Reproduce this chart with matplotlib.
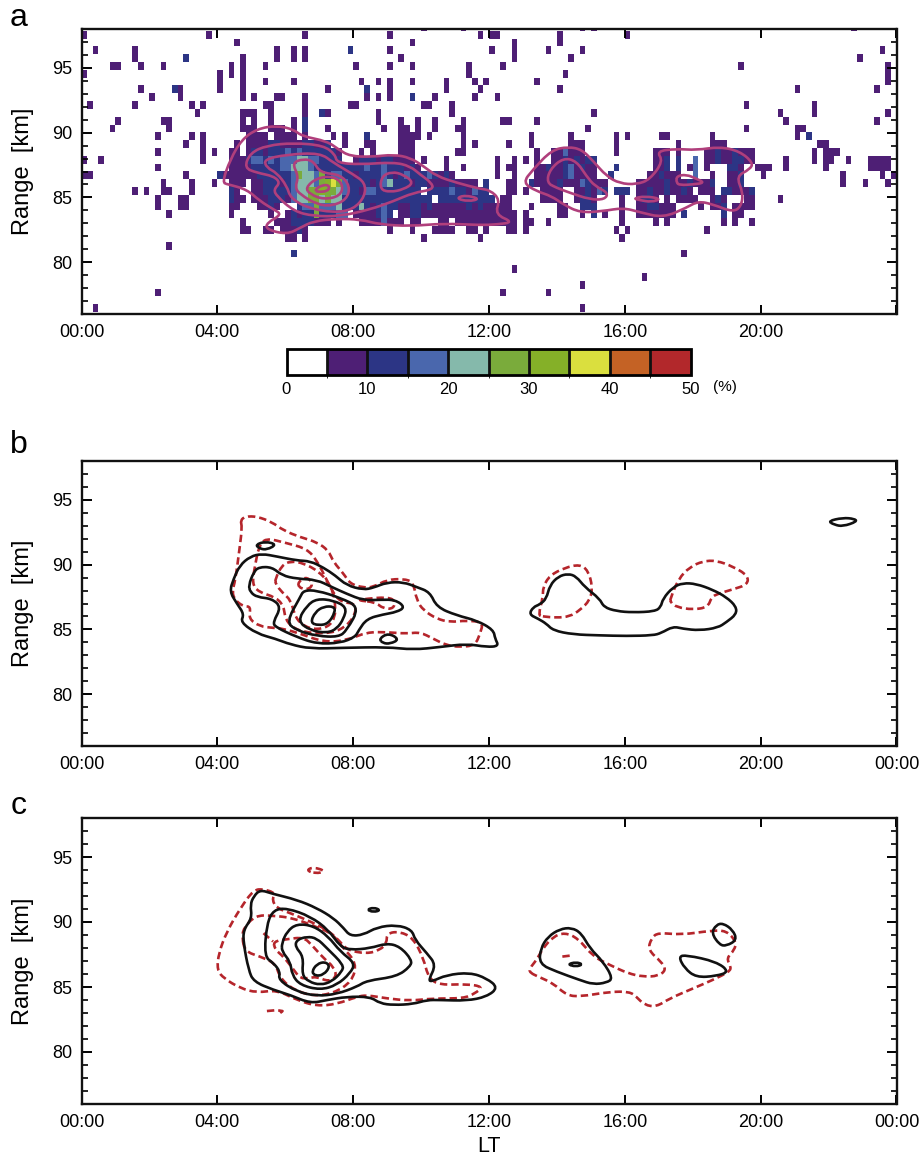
"""Three stacked range-time panels: occurrence map with contours (a), contour comparisons (b, c)."""
import matplotlib

matplotlib.use("Agg")
import matplotlib.pyplot as plt
import numpy as np
from matplotlib.colors import BoundaryNorm, ListedColormap
from matplotlib.patches import PathPatch
from matplotlib.path import Path

plt.rcParams["font.family"] = ["Liberation Sans", "DejaVu Sans"]

# colour bins of the occurrence map, 5 % wide
BIN_EDGES = [0, 5, 10, 15, 20, 25, 30, 35, 40, 45, 50]
BIN_COLORS = ["#ffffff", "#4e1f75", "#2c3585", "#4a67ad", "#85b9ab",
              "#7aab3b", "#85b028", "#dadf3e", "#c46225", "#b2282b"]
CB_TICKS = [0, 10, 20, 30, 40, 50]

# 10 min columns, 0.6 km rows. row -1 is the top row.
# row -> [(first column, bin number per column)], "." is an empty cell
occ_rows = {
    -1: [(60, "1"), (67, "1"), (88, "1"), (90, "1"), (136, "1")],
    0: [(0, "1"), (22, "1"), (39, "1"), (54, "1"), (70, "1"), (72, "11"), (84, "1"), (96, "1")],
    1: [(27, "1"), (58, "1"), (76, "1"), (84, "1")],
    2: [(2, "1"), (9, "1"), (34, "1"), (37, "1"), (39, "1"), (47, "2"), (54, "1"), (72, "1"), (76, "1"),
        (82, "1"), (88, "1"), (141, "1")],
    3: [(9, "1"), (18, "2"), (28, "1"), (34, "1"), (37, "1"), (39, "1"), (56, "1"), (76, "1"), (86, "1"), (137, "1")],
    4: [(5, "11"), (10, "1"), (14, "1"), (26, "1"), (28, "1"), (32, "1"), (48, "1"), (54, "1"), (58, "1"),
        (68, "1"), (74, "1"), (116, "1"), (142, "1")],
    5: [(0, "1"), (24, "1"), (26, "1"), (28, "1"), (68, "1"), (85, "1"), (142, "1")],
    6: [(24, "1"), (28, "1"), (32, "1"), (37, "1"), (49, "1"), (52, "1"), (54, "1"), (58, "1"), (64, "1"),
        (69, "1"), (71, "1"), (80, "1"), (142, "1")],
    7: [(10, "1"), (16, "21"), (24, "1"), (28, "1"), (43, "1"), (50, "2"), (54, "1"), (64, "1"), (70, "1"),
        (84, "1"), (126, "1"), (140, "1")],
    8: [(12, "1"), (17, "1"), (28, "1"), (30, "1"), (34, "11"), (39, "1"), (50, "1"), (52, "1"), (54, "1"),
        (58, "2"), (62, "1"), (69, "1"), (73, "1")],
    9: [(1, "1"), (9, "1"), (19, "1"), (21, "1"), (32, "11"), (39, "1"), (47, "11"), (60, "11"), (65, "1"),
        (117, "1"), (129, "1")],
    10: [(20, "1"), (28, "111"), (33, "1"), (39, "1"), (42, "21"), (52, "1"), (65, "1"), (90, "1"), (123, "1"),
         (129, "1"), (142, "1")],
    11: [(6, "1"), (14, "11"), (28, "1"), (30, "1"), (33, "1"), (37, "1"), (39, "2"), (52, "1"), (56, "1"), (59, "1"),
         (62, "1"), (67, "1"), (74, "11"), (80, "1"), (124, "1"), (140, "1")],
    12: [(5, "1"), (15, "1"), (28, "111"), (33, "111"), (37, "1"), (39, "2"), (43, "1"), (53, "1"), (56, "11"),
         (59, "1"), (62, "1"), (66, "11"), (89, "1"), (117, "1"), (126, "11")],
    13: [(13, "1"), (19, "1"), (21, "1"), (29, "1111.1111"), (39, "1"), (44, "1"), (46, "1"), (50, "2"), (56, "1111"),
         (61, "1"), (67, "1"), (79, "1"), (86, "1"), (94, "1"), (96, "1"), (102, "11"), (111, "1"), (126, "1"),
         (128, "2")],
    14: [(18, "1"), (21, "1"), (27, "1"), (29, "111122111122112"), (46, "1"), (50, "11"), (56, "111"),
         (67, "1"), (69, "1"), (75, "1"), (79, "1"), (86, "111"), (94, "1"), (105, "1"), (111, "111"),
         (130, "11")],
    15: [(13, "1"), (21, "1"), (23, "1"), (26, "11"), (29, "12212223232222221"), (49, "1"), (51, "1"), (56, "111"),
         (66, "11"), (80, "1"), (83, "113111"), (94, "1"), (101, "111"), (105, "1"), (110, "112112111"),
         (129, "1"), (131, "111")],
    16: [(0, "1"), (3, "1"), (21, "1"), (26, "11123323233344332222"), (48, "12221221111"), (60, "1"), (64, "1"),
         (73, "1"), (76, "1"), (78, "1"), (80, "1"), (83, "11212122"), (101, "112"), (105, "2"), (108, "3"),
         (110, "112112211"), (124, "1"), (129, "1"), (131, "11"), (135, "1"), (139, "1111")],
    17: [(13, "1"), (26, "1111222223344432222222223223222121"), (64, "1"), (67, "1"), (73, "1"), (75, "11"),
         (80, "11211231211"), (94, "2"), (101, "112"), (105, "2"), (107, "13"), (110, "1"), (114, "221"),
         (119, "111"), (124, "1"), (131, "1"), (139, "1111")],
    18: [(0, "11"), (18, "1"), (24, "21111112222223544352"), (44, "3322122223212322232121"), (73, "1"), (76, "1"),
         (80, "11111231111"), (93, "2"), (100, "112111"), (108, "3"), (111, "1"), (114, "112"), (120, "1"),
         (134, "1"), (141, "1"), (143, "1")],
    19: [(14, "1"), (19, "1"), (23, "1"), (26, "111"), (30, "1122212344435675322221"), (52, "2342221221"),
         (62, "11121111"), (71, "2"), (75, "11"), (79, "2"), (80, "1111211132111"), (98, "11111211121112"),
         (114, "112"), (134, "1"), (138, "1"), (142, "1")],
    20: [(9, "1"), (11, "1"), (14, "11"), (19, "1"), (26, "21"), (30, "11222223445565543"), (47, "2213322222222"),
         (61, "22"), (63, "223221322"), (75, "11"), (78, "1"), (81, "1111"), (87, "112132"),
         (94, "222"), (98, "1121121121"), (109, "111"), (113, "221112")],
    21: [(13, "1"), (17, "11"), (26, "211"), (30, "1112221344554544"), (46, "2222222222222222"), (63, "2222222222"),
         (74, "11"), (81, "1111"), (87, "1221"), (95, "1"), (98, "1221"), (103, "1"), (105, "1111"),
         (111, "121"), (117, "11"), (123, "1")],
    22: [(13, "1"), (17, "11"), (26, "11"), (31, "1121"), (38, "2335333"), (45, "422242"), (51, "1232211221211"),
         (64, "1111212111"), (74, "11"), (79, "1"), (84, "11"), (88, "222"), (95, "1"), (98, "1122111"), (109, "1"),
         (111, "112"), (115, "1111")],
    23: [(15, "1"), (26, "1"), (33, "1"), (36, "12122522233"), (48, "1111232"), (56, "11221111111111111"),
         (73, "1111"), (78, "1"), (84, "11"), (88, "1"), (90, "2"), (92, "1"), (95, "1"), (98, "1111111"),
         (106, "2"), (113, "2"), (115, "11")],
    24: [(28, "1"), (34, "111222211"), (43, "1"), (45, "1"), (49, "11113111"), (58, "11"), (63, "11"), (66, "1111111"),
         (73, "1111"), (78, "11"), (82, "1"), (95, "1"), (101, "1"), (103, "1"), (113, "1"), (115, "1"), (118, "1")],
    25: [(28, "11"), (32, "11"), (35, "11121"), (54, "1"), (58, "1"), (62, "1111"), (68, "11"), (71, "1"),
         (75, "11"), (78, "1"), (94, "1"), (96, "1"), (110, "1")],
    26: [(36, "11"), (39, "1"), (60, "1"), (70, "1"), (95, "1")],
    27: [(15, "1")],
    28: [(37, "2"), (106, "1")],
    30: [(76, "1")],
    31: [(99, "1")],
    32: [(88, "1")],
    33: [(13, "1"), (74, "1"), (82, "1")],
    35: [(2, "1"), (88, "1")],
}

# contours, (hours, km). panel a
a_contours = [
    ([4.14, 4.38, 4.72, 5.17, 5.75, 6.25, 6.49, 7.23, 7.57, 7.91, 8.55, 9.19, 9.68, 10.07, 10.46, 11.05, 11.74, 12.03,
      12.32, 12.18, 12.72, 12.23, 11.74, 10.66, 9.68, 8.79, 8.21, 7.52, 6.83, 6.44, 6.05, 5.44, 5.46, 5.90, 5.66, 5.26,
      4.87, 4.33],
     [86.13, 87.93, 89.47, 90.29, 90.55, 90.24, 89.73, 89.34, 88.70, 88.18, 88.13, 88.31, 88.06, 87.41, 86.64, 86.13,
      85.66, 85.56, 84.84, 83.68, 83.09, 82.91, 82.86, 82.99, 82.78, 82.91, 83.30, 83.35, 83.17, 82.65, 82.14, 82.53,
      83.04, 83.68, 84.07, 84.71, 85.61, 86.00]),
    ([4.79, 4.97, 5.46, 6.25, 7.13, 7.47, 7.52, 8.21, 9.19, 9.68, 9.97, 10.31, 10.36, 9.77, 9.19, 8.50, 7.62, 6.83, 6.25,
      5.75, 5.66, 5.85, 5.66, 5.17],
     [87.28, 88.44, 89.01, 89.21, 89.01, 88.31, 87.67, 87.54, 87.72, 87.41, 86.77, 86.13, 85.61, 85.36, 84.71, 84.07,
      83.55, 83.55, 83.94, 85.10, 85.61, 86.13, 86.64, 86.90]),
    ([5.36, 6.05, 7.03, 7.42, 8.01, 8.35, 8.35, 8.01, 7.42, 6.64, 6.15, 6.05, 5.75, 5.46],
     [87.93, 88.31, 88.44, 87.67, 86.77, 86.13, 85.10, 84.07, 83.82, 84.20, 84.97, 85.87, 86.90, 87.28]),
    ([6.20, 6.54, 6.83, 7.03, 7.62, 7.91, 7.81, 7.37, 6.93, 6.44, 6.29, 6.39],
     [87.67, 87.98, 87.80, 86.90, 86.77, 85.87, 84.84, 84.33, 84.46, 85.23, 85.74, 86.64]),
    ([6.59, 6.93, 7.42, 7.71, 7.62, 7.13, 6.74], [85.74, 86.51, 86.64, 86.00, 85.10, 84.84, 85.23]),
    ([6.88, 7.08, 7.30, 7.27, 6.93], [85.61, 85.95, 85.95, 85.48, 85.41]),
    ([8.79, 8.84, 9.14, 9.48, 9.79, 9.48, 9.09], [85.61, 86.64, 86.98, 86.77, 86.13, 85.61, 85.41]),
    ([11.03, 11.29, 11.74, 11.39], [84.92, 85.18, 84.89, 84.69]),
    ([12.99, 13.30, 13.84, 14.33, 14.73, 15.07, 15.46, 15.85, 16.34, 16.74, 17.13, 16.93, 17.52, 18.11, 18.79, 19.38,
      19.78, 19.68, 19.28, 19.48, 19.43, 19.19, 18.60, 18.16, 17.81, 17.13, 16.44, 15.95, 15.36, 14.68, 14.19, 13.84,
      13.40],
     [86.13, 87.16, 88.65, 88.91, 88.70, 87.80, 86.64, 86.08, 86.00, 86.38, 87.80, 88.57, 88.75, 88.65, 88.91, 88.57,
      87.67, 87.16, 86.64, 85.36, 84.33, 83.86, 84.46, 84.71, 84.20, 83.43, 83.86, 84.20, 83.94, 83.82, 84.46, 85.10,
      85.48]),
    ([13.70, 13.79, 14.19, 14.58, 14.87, 15.12, 15.51, 15.41, 14.97, 14.38, 13.99],
     [86.13, 87.16, 88.06, 87.80, 86.64, 85.87, 85.36, 84.84, 84.84, 85.36, 85.74]),
    ([17.52, 17.81, 18.11, 18.35, 18.01, 17.62, 17.52], [86.64, 86.77, 86.44, 86.13, 86.00, 85.95, 86.13]),
    ([16.25, 16.59, 17.08, 16.78, 16.44], [84.92, 85.10, 84.89, 84.64, 84.79]),
]

# panel b
b_black = [
    ([4.36, 4.48, 4.66, 4.97, 5.31, 5.75, 6.34, 6.74, 7.13, 7.47, 7.81, 8.30, 8.60, 8.99, 9.48, 9.87, 10.26, 10.46,
      11.05, 11.64, 12.13, 12.18, 12.29, 11.93, 11.34, 10.56, 9.77, 8.99, 7.72, 6.74, 6.15, 5.71, 5.17, 4.68, 4.79, 4.58],
     [87.93, 88.91, 89.94, 90.63, 90.84, 90.63, 90.32, 90.27, 89.76, 89.17, 88.40, 88.06, 88.22, 88.63, 88.65, 88.27,
      87.88, 86.72, 86.08, 85.69, 84.97, 84.28, 83.71, 83.64, 83.89, 83.64, 83.43, 83.64, 83.58, 83.51, 83.84, 84.28,
      84.67, 85.56, 86.16, 86.98]),
    ([4.92, 5.07, 5.22, 5.61, 5.90, 6.34, 6.93, 7.37, 7.81, 8.30, 8.79, 9.24, 9.53, 9.28, 8.89, 8.40, 8.16, 8.06, 7.62,
      6.93, 6.34, 5.71, 5.64, 5.88, 5.61, 5.17, 4.97],
     [88.40, 89.42, 89.81, 89.81, 89.17, 88.91, 88.83, 88.27, 87.75, 87.24, 87.29, 87.29, 86.72, 86.34, 86.16, 85.82,
      84.92, 84.41, 83.95, 83.89, 84.41, 85.18, 85.56, 86.72, 87.37, 87.49, 87.88]),
    ([6.03, 6.44, 6.54, 6.93, 7.62, 8.19, 7.81, 7.57, 6.93, 6.34],
     [85.56, 87.49, 88.01, 88.01, 87.44, 86.72, 84.92, 84.41, 84.49, 84.92]),
    ([6.36, 6.64, 6.93, 7.42, 7.81, 7.72, 7.52, 7.23, 6.74],
     [85.64, 86.85, 87.37, 87.24, 86.72, 85.82, 85.05, 84.72, 84.92]),
    ([6.74, 6.88, 7.13, 7.44, 7.47, 7.27, 6.98], [85.51, 86.34, 86.77, 86.77, 86.34, 85.44, 85.31]),
    ([5.12, 5.41, 5.75, 5.46, 5.25], [91.53, 91.79, 91.56, 91.15, 91.23]),
    ([8.76, 9.04, 9.36, 9.09, 8.87], [84.28, 84.72, 84.23, 83.89, 83.94]),
    ([13.18, 13.30, 13.50, 13.69, 13.79, 14.04, 14.33, 14.57, 14.82, 15.26, 15.38, 15.75, 16.24, 16.88, 17.06, 17.12,
      17.42, 17.71, 18.10, 18.59, 18.99, 19.28, 19.28, 18.99, 18.74, 18.20, 17.71, 17.42, 17.07, 16.83, 16.05, 15.26,
      14.48, 13.89, 13.69, 13.45],
     [86.16, 86.72, 86.93, 87.37, 88.40, 89.09, 89.30, 89.09, 88.27, 87.37, 86.72, 86.41, 86.31, 86.39, 86.72, 87.37,
      88.27, 88.58, 88.52, 88.06, 87.49, 86.77, 86.16, 85.56, 85.13, 84.92, 85.05, 85.23, 84.72, 84.54, 84.49, 84.54,
      84.61, 84.92, 85.44, 85.82]),
    ([21.98, 22.42, 22.76, 22.84, 22.42, 22.17], [93.36, 93.62, 93.54, 93.33, 92.95, 93.08]),
]
b_red = [
    ([4.68, 4.82, 5.17, 5.61, 5.95, 6.44, 6.93, 7.27, 7.42, 7.72, 7.91, 8.30, 8.60, 8.99, 9.48, 9.77, 9.87, 10.07, 10.46,
      10.85, 11.34, 11.83, 11.74, 11.59, 11.15, 10.75, 10.36, 9.97, 9.58, 8.99, 8.40, 7.81, 7.13, 6.44, 5.95, 5.61, 5.26,
      4.92, 4.99, 4.77, 4.53, 4.43, 4.53, 4.66, 4.73],
     [93.41, 93.72, 93.72, 93.28, 92.64, 92.12, 91.74, 91.10, 90.20, 89.30, 88.52, 88.22, 88.27, 88.83, 88.91, 88.65,
      87.24, 86.47, 85.82, 85.56, 85.69, 85.56, 84.67, 83.77, 83.64, 83.77, 84.28, 84.79, 84.67, 84.79, 84.79, 84.15,
      84.02, 84.67, 85.05, 85.13, 85.23, 85.82, 86.77, 86.77, 87.24, 87.88, 88.78, 91.35, 92.90]),
    ([5.12, 5.22, 5.41, 6.05, 6.64, 6.93, 7.18, 7.37, 7.62, 8.11, 8.01, 7.62, 7.13, 6.54, 6.20, 6.00, 5.95, 5.71, 5.22, 5.02],
     [90.07, 91.35, 92.07, 91.66, 91.22, 90.32, 89.04, 88.01, 87.11, 86.98, 85.82, 84.92, 84.67, 84.79, 85.18, 85.82,
      86.85, 87.49, 87.88, 88.52]),
    ([8.11, 8.40, 8.99, 9.24, 9.19, 8.89, 8.65], [87.24, 87.37, 87.49, 87.24, 86.60, 86.60, 87.11]),
    ([5.71, 5.90, 6.15, 6.54, 6.98, 7.27, 7.42, 7.47, 7.47, 7.27, 6.83, 6.44, 6.26, 6.17, 5.90, 5.71],
     [88.91, 89.94, 90.27, 90.12, 89.48, 88.65, 87.75, 86.98, 85.95, 85.18, 84.97, 85.44, 86.21, 87.24, 87.88, 88.52]),
    ([6.34, 6.59, 6.81, 6.74, 6.49], [88.52, 89.09, 88.65, 88.14, 88.09]),
    ([13.45, 13.59, 13.59, 13.79, 14.23, 14.67, 14.92, 15.05, 14.97, 14.67, 14.38, 13.99, 13.59],
     [86.08, 87.49, 88.27, 89.17, 89.76, 90.02, 89.55, 88.27, 87.24, 86.47, 86.00, 85.90, 86.00]),
    ([17.34, 17.58, 17.91, 18.30, 18.69, 19.18, 19.62, 19.62, 19.18, 18.74, 18.55, 18.45, 18.01, 17.52, 17.34],
     [87.37, 88.91, 89.81, 90.27, 90.32, 89.86, 89.17, 88.47, 88.09, 87.75, 87.49, 86.72, 86.52, 86.72, 87.11]),
]

# panel c
c_black = [
    ([4.97, 5.07, 5.26, 5.61, 6.34, 6.93, 7.42, 7.72, 7.91, 8.30, 8.70, 9.28, 9.73, 9.82, 10.17, 10.44, 10.22, 10.31,
      10.75, 11.44, 11.93, 12.27, 11.93, 11.34, 10.56, 10.17, 9.77, 9.19, 8.79, 8.50, 7.81, 7.23, 6.74, 6.15, 5.66, 5.07,
      4.92, 4.77, 4.77, 5.02],
     [91.33, 91.97, 92.48, 92.18, 91.71, 91.07, 90.30, 89.53, 88.93, 89.01, 89.60, 89.78, 89.40, 88.63, 87.60, 86.70,
      85.54, 85.41, 85.93, 86.11, 85.67, 84.95, 84.25, 83.94, 84.00, 84.00, 83.69, 83.61, 83.74, 84.25, 84.25, 84.00,
      83.74, 84.38, 84.77, 85.41, 86.31, 88.37, 89.40, 90.30]),
    ([5.38, 5.46, 5.66, 6.05, 6.74, 7.27, 7.62, 7.91, 8.50, 8.99, 9.38, 9.73, 9.68, 9.28, 8.40, 8.11, 7.52, 6.93, 6.34,
      5.80, 5.85, 5.66],
     [87.34, 89.91, 90.94, 91.07, 90.43, 89.40, 88.11, 87.85, 87.98, 88.37, 88.11, 87.08, 86.57, 85.80, 85.49, 85.02,
      84.46, 84.30, 84.64, 85.54, 86.18, 86.83]),
    ([5.90, 6.05, 6.34, 6.83, 7.27, 7.62, 8.06, 7.91, 7.52, 7.03, 6.44, 6.20, 6.15, 5.90],
     [88.37, 89.27, 89.86, 89.71, 88.88, 87.73, 86.83, 86.05, 85.15, 84.77, 85.15, 85.93, 86.95, 87.73]),
    ([6.29, 6.34, 6.64, 6.93, 7.23, 7.72, 7.67, 7.37, 7.03, 6.69, 6.49, 6.54],
     [88.11, 88.63, 88.88, 88.75, 87.98, 86.70, 86.18, 85.41, 85.15, 85.41, 85.93, 87.34]),
    ([6.78, 6.93, 7.18, 7.32, 7.13, 6.88], [86.18, 86.77, 86.95, 86.57, 85.93, 85.85]),
    ([8.40, 8.60, 8.81, 8.60], [90.94, 91.12, 90.91, 90.76]),
    ([13.48, 13.52, 13.74, 14.08, 14.43, 14.72, 14.97, 15.36, 15.65, 15.46, 15.07, 14.67, 13.99],
     [86.77, 87.98, 88.88, 89.45, 89.57, 89.14, 87.98, 86.95, 85.66, 85.33, 85.20, 85.54, 86.18]),
    ([14.31, 14.56, 14.77, 14.56], [86.74, 86.92, 86.74, 86.56]),
    ([18.55, 18.69, 18.89, 19.18, 19.30, 18.99, 18.79], [89.14, 89.78, 89.91, 89.39, 88.62, 88.16, 88.24]),
    ([17.58, 17.81, 18.69, 19.08, 18.69, 18.10, 17.76], [87.34, 87.46, 86.95, 86.18, 85.84, 85.74, 86.44]),
]
c_red = [
    ([5.61, 5.71, 5.36, 5.07, 4.68, 4.28, 4.04, 3.99, 4.19, 4.68, 5.17, 5.75, 6.34, 6.93, 7.52, 8.11, 8.40, 8.99, 9.68,
      10.36, 11.25, 11.59, 11.83, 11.34, 10.56, 10.22, 10.07, 9.77, 9.38, 8.99, 8.99, 8.79, 8.40, 7.81, 7.57, 7.23, 6.74,
      6.15, 5.75],
     [91.71, 92.23, 92.53, 92.48, 91.07, 89.27, 87.60, 86.31, 85.67, 84.90, 84.56, 84.77, 84.00, 83.53, 83.69, 84.25,
      84.38, 84.12, 83.94, 84.12, 84.12, 84.51, 85.02, 85.23, 85.15, 85.67, 87.21, 88.75, 89.27, 89.14, 88.37, 87.85,
      87.55, 87.85, 88.63, 89.40, 90.04, 90.68, 91.07]),
    ([4.73, 4.77, 5.12, 5.61, 6.25, 6.88, 7.37, 7.67, 8.11, 7.96, 7.42, 6.83, 6.25, 5.85, 5.71, 5.26, 4.82],
     [88.75, 89.53, 90.50, 90.50, 90.30, 89.65, 89.14, 88.11, 86.83, 85.41, 84.51, 84.30, 84.77, 85.67, 86.83, 87.34, 87.73]),
    ([5.64, 6.05, 6.54, 6.78, 7.13, 7.42, 7.52, 7.27, 6.93, 6.69, 6.44, 6.29, 5.95, 5.71],
     [88.50, 88.68, 88.83, 88.24, 87.21, 86.57, 85.80, 85.41, 85.80, 85.67, 85.67, 86.18, 87.34, 87.85]),
    ([6.62, 6.83, 7.21, 6.88], [93.98, 94.23, 93.90, 93.72]),
    ([13.20, 13.20, 13.40, 13.59, 13.89, 14.23, 14.62, 15.07, 15.56, 16.09, 16.54, 16.98, 17.22, 17.07, 16.68, 16.78,
      16.98, 17.66, 18.55, 18.99, 19.28, 19.23, 18.99, 19.13, 19.08, 18.59, 18.01, 17.32, 16.93, 16.58, 16.34, 16.14,
      15.56, 14.67, 14.28, 13.89, 13.50],
     [86.10, 86.44, 87.08, 87.98, 88.88, 89.19, 88.75, 87.34, 86.69, 86.05, 85.79, 85.84, 86.31, 86.95, 87.85, 88.75,
      89.19, 89.01, 89.34, 89.34, 88.49, 87.85, 87.21, 86.56, 86.18, 85.54, 84.89, 84.12, 83.48, 83.61, 84.25, 84.64,
      84.64, 84.25, 84.38, 85.28, 85.74]),
]
# the short pieces that do not close
c_red_open = [
    ([5.36, 5.64], [89.14, 88.50]),
    ([5.46, 5.75, 5.92, 5.80], [83.15, 83.22, 83.15, 82.89]),
    ([14.16, 14.38], [87.34, 87.41]),
]

TIME_TICKS = [0, 4, 8, 12, 16, 20, 24]
TIME_LABELS = ["00:00", "04:00", "08:00", "12:00", "16:00", "20:00", "00:00"]
RANGE_TICKS = [80, 85, 90, 95]


def smooth_path(hours, km, closed=True):
    # quadratic curves through the segment midpoints, closer to the rounded contours than straight lines
    pts = np.column_stack([hours, km])
    if not closed:
        return Path(pts)
    mids = (pts + np.roll(pts, -1, axis=0)) / 2
    verts = [mids[-1]]
    codes = [Path.MOVETO]
    for p, m in zip(pts, mids):
        verts += [p, m]
        codes += [Path.CURVE3, Path.CURVE3]
    return Path(verts, codes)


def draw_contours(ax, contours, color, lw, dashed=False, closed=True):
    for hours, km in contours:
        patch = PathPatch(smooth_path(hours, km, closed), fill=False, edgecolor=color, lw=lw, joinstyle="round", capstyle="butt")
        if dashed:
            patch.set_linestyle((0, (2.8, 1.5)))
        ax.add_patch(patch)


def style_axes(ax, last_label=True):
    ax.set_xlim(0, 24)
    ax.set_ylim(76, 98)
    labels = TIME_LABELS if last_label else TIME_LABELS[:-1] + [""]
    ax.set_xticks(TIME_TICKS, labels)
    ax.set_yticks(RANGE_TICKS)
    ax.set_yticks(np.arange(77, 98), minor=True)
    ax.tick_params(axis="x", which="major", direction="in", top=True, length=6.5, width=1.4, labelsize=13, pad=7.5)
    ax.tick_params(axis="y", which="major", direction="in", right=True, length=7, width=1.4, labelsize=13, pad=6.5)
    ax.tick_params(axis="y", which="minor", direction="in", right=True, length=4, width=1.2)
    ax.set_ylabel("Range  [km]", fontsize=17)
    ax.yaxis.set_label_coords(-0.058, 0.5)
    for spine in ax.spines.values():
        spine.set_linewidth(1.7)
        spine.set_color("#111111")


fig = plt.figure(figsize=(9.22, 11.57), dpi=100)


def axes_at(x0, y0, x1, y1):
    return fig.add_axes([x0 / 922, 1 - y1 / 1157, (x1 - x0) / 922, (y1 - y0) / 1157])


ax_a = axes_at(81.5, 29, 896.5, 314)
ax_b = axes_at(81.5, 461, 896.5, 746)
ax_c = axes_at(81.5, 818, 896.5, 1104)

# occurrence grid
occ = np.zeros((37, 144))
for row, spans in occ_rows.items():
    for col, cells in spans:
        for i, ch in enumerate(cells):
            if ch != ".":
                occ[row + 1, col + i] = BIN_EDGES[int(ch)] + 2.5
hour_edges = np.linspace(0, 24, 145)
km_edges = np.linspace(98.47, 76.15, 38)
cmap = ListedColormap(BIN_COLORS)
norm = BoundaryNorm(BIN_EDGES, cmap.N)
mesh = ax_a.pcolormesh(hour_edges, km_edges, occ, cmap=cmap, norm=norm)
draw_contours(ax_a, a_contours, "#b03f7c", 1.9)
style_axes(ax_a, last_label=False)

draw_contours(ax_b, b_red, "#b5252b", 1.9, dashed=True)
draw_contours(ax_b, b_black, "#111111", 1.9)
style_axes(ax_b)

draw_contours(ax_c, c_red, "#b5252b", 1.9, dashed=True)
draw_contours(ax_c, c_red_open, "#b5252b", 1.9, dashed=True, closed=False)
draw_contours(ax_c, c_black, "#111111", 1.9)
style_axes(ax_c)
ax_c.set_xlabel("LT", fontsize=15.5, labelpad=3)

# colour scale
cax = axes_at(286.5, 349, 690.5, 375)
cb = fig.colorbar(mesh, cax=cax, orientation="horizontal", ticks=CB_TICKS, drawedges=True)
cb.outline.set_linewidth(2)
cb.dividers.set_color("#111111")
cb.dividers.set_linewidth(2)
cax.tick_params(length=0, labelsize=12, pad=5)
fig.text(725 / 922, 1 - 387 / 1157, "(%)", fontsize=11, ha="center", va="center")

for letter, y in zip("abc", [18, 445, 806]):
    fig.text(19 / 922, 1 - y / 1157, letter, fontsize=23, ha="center", va="center")

fig.savefig("out.png", dpi=100)
